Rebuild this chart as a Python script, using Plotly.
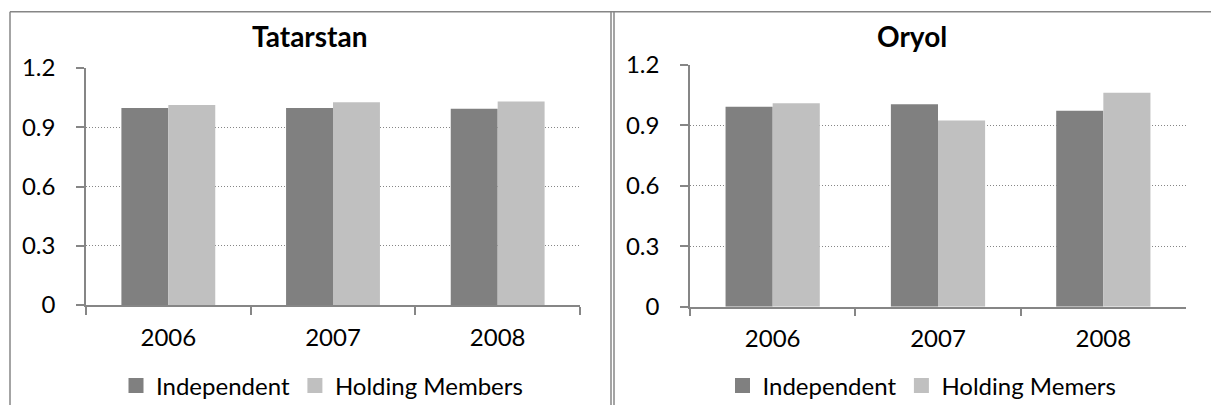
import plotly.graph_objects as go

W, H = 1211, 405

years = ["2006", "2007", "2008"]
tatarstan_independent = [0.997, 0.997, 0.994]
tatarstan_holding = [1.013, 1.026, 1.031]
oryol_independent = [0.993, 1.005, 0.973]
oryol_holding = [1.010, 0.925, 1.062]
y_ticks = [0, 0.3, 0.6, 0.9, 1.2]
y_tick_labels = ["0", "0.3", "0.6", "0.9", "1.2"]

DARK = "#808080"
LIGHT = "#C0C0C0"
AXIS = "#868686"
FONT = "Lato"
TICK_SIZE = 24

def px_x(p):
    return p / W

def px_y(p):
    return 1 - p / H

fig = go.Figure()

def add_bars(xa, ya, leg, indep, hold, indep_name, hold_name):
    fig.add_trace(go.Bar(x=years, y=indep, name=indep_name, showlegend=False,
                         marker=dict(color=DARK, line=dict(width=0)),
                         xaxis=xa, yaxis=ya))
    fig.add_trace(go.Bar(x=years, y=hold, name=hold_name, showlegend=False,
                         marker=dict(color=LIGHT, line=dict(width=0)),
                         xaxis=xa, yaxis=ya))
    # legend entries (square swatches)
    for name, col in ((indep_name, DARK), (hold_name, LIGHT)):
        fig.add_trace(go.Scatter(x=[None], y=[None], mode="markers", name=name,
                                 marker=dict(symbol="square", size=15, color=col,
                                             line=dict(width=0)),
                                 xaxis=xa, yaxis=ya, legend=leg, hoverinfo="skip"))

add_bars("x", "y", "legend", tatarstan_independent, tatarstan_holding,
         "Independent", "Holding Members")
add_bars("x2", "y2", "legend2", oryol_independent, oryol_holding,
         "Independent", "Holding Memers")

xcommon = dict(type="category", categoryorder="array", categoryarray=years,
               showline=True, linecolor=AXIS, linewidth=1.5, ticks="outside",
               tickson="boundaries", ticklen=8, tickcolor=AXIS, tickwidth=1.5,
               showgrid=False, zeroline=False, ticklabelstandoff=10,
               automargin=False,
               tickfont=dict(family=FONT, size=TICK_SIZE, color="#000"), fixedrange=True)
ycommon = dict(range=[0, 1.2], tickvals=y_ticks, ticktext=y_tick_labels,
               showline=True, linecolor=AXIS, linewidth=1.5, ticks="outside",
               ticklen=8, tickcolor=AXIS, tickwidth=1.5, showgrid=True,
               gridcolor=AXIS, gridwidth=1, griddash="1px,2px", zeroline=False,
               ticklabelstandoff=16, automargin=False,
               tickfont=dict(family=FONT, size=TICK_SIZE, color="#000"), fixedrange=True)

legend_common = dict(orientation="h", xref="container", yref="container",
                     y=px_y(386), yanchor="middle",
                     font=dict(family=FONT, size=TICK_SIZE, color="#000"),
                     bgcolor="rgba(0,0,0,0)", itemwidth=30, tracegroupgap=0)

fig.update_layout(
    width=W, height=H,
    margin=dict(l=0, r=0, t=0, b=0, autoexpand=False),
    paper_bgcolor="white", plot_bgcolor="white",
    barmode="group", bargap=0.43, bargroupgap=0,
    xaxis=dict(domain=[px_x(86), px_x(580)], anchor="y", **xcommon),
    yaxis=dict(domain=[px_y(305), px_y(68)], anchor="x", **ycommon),
    xaxis2=dict(domain=[px_x(690), px_x(1186)], anchor="y2", **xcommon),
    yaxis2=dict(domain=[px_y(306.7), px_y(65)], anchor="x2", **ycommon),
    legend=dict(x=px_x(322), xanchor="center", **legend_common),
    legend2=dict(x=px_x(922), xanchor="center", **legend_common),
    annotations=[
        dict(text="<b>Tatarstan</b>", x=px_x(309), y=px_y(36), xref="paper", yref="paper",
             xanchor="center", yanchor="middle", showarrow=False,
             font=dict(family=FONT, size=28, color="#000")),
        dict(text="<b>Oryol</b>", x=px_x(912), y=px_y(36), xref="paper", yref="paper",
             xanchor="center", yanchor="middle", showarrow=False,
             font=dict(family=FONT, size=28, color="#000")),
    ],
    shapes=[
        dict(type="line", xref="paper", yref="paper", x0=px_x(10), x1=1, y0=px_y(11.7), y1=px_y(11.7),
             line=dict(color=AXIS, width=1.5)),
        dict(type="line", xref="paper", yref="paper", x0=px_x(10), x1=px_x(10), y0=px_y(11.7), y1=0,
             line=dict(color=AXIS, width=1.5)),
        dict(type="line", xref="paper", yref="paper", x0=px_x(611), x1=px_x(611), y0=px_y(11.7), y1=0,
             line=dict(color=AXIS, width=1.5)),
        dict(type="line", xref="paper", yref="paper", x0=px_x(614), x1=px_x(614), y0=px_y(11.7), y1=0,
             line=dict(color=AXIS, width=1.5)),
    ],
)

fig.write_html("out.html", config=dict(displayModeBar=False))
